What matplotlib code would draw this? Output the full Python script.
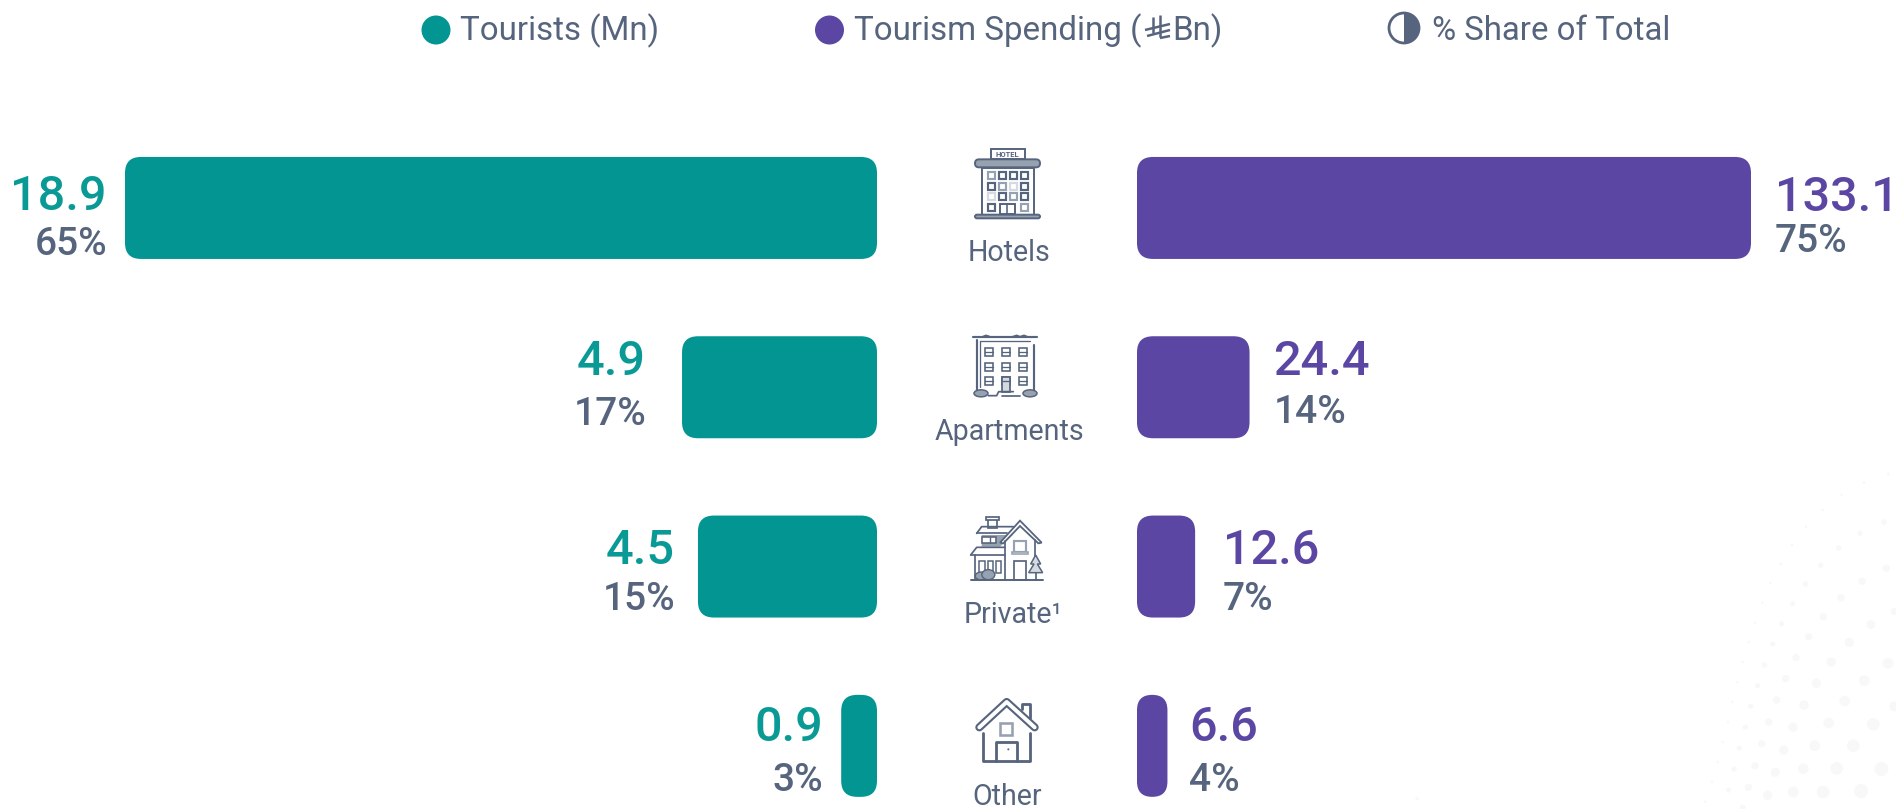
import matplotlib
matplotlib.use("Agg")
import matplotlib.pyplot as plt
from matplotlib.patches import FancyBboxPatch, Circle, Rectangle, Wedge, Polygon, Ellipse

plt.rcParams['font.family'] = ['Roboto', 'DejaVu Sans']

# ---- data ----
categories = ["Hotels", "Apartments", "Private¹", "Other"]
tourists = [18.9, 4.9, 4.5, 0.9]
tourists_share = ["65%", "17%", "15%", "3%"]
spending = [133.1, 24.4, 12.6, 6.6]
spending_labels = ["133.1", "24.4", "12.6", "6.6"]
spending_share = ["75%", "14%", "7%", "4%"]

TEAL = "#029592"
PURPLE = "#5B47A3"
SLATE = "#56657D"
W, H = 1896, 809

fig = plt.figure(figsize=(W / 100, H / 100), dpi=100, facecolor="white")

# background overlay in pixel coordinates
bg = fig.add_axes([0, 0, 1, 1], zorder=0)
bg.set_xlim(0, W); bg.set_ylim(H, 0); bg.axis("off")

dots = [(1465,102,4),(1392,128,4),(1325,165,4),(1268,210,4),(1218,261,4),(1176,315,4),(1142,372,4),(1111,429,4),
 (1087,488,4),(1065,548,4),(1046,606,4),(1028,666,4),(1012,727,4),(997,786,4),(984,846,4),(968,906,4),(953,966,4),(936,1025,4),(916,1085,4),
 (1452,246,8),(1380,280,8),(1316,324,8),(1262,376,8),(1216,432,8),(1178,491,8),(1145,551,8),(1118,612,8),(1093,675,8),(1073,737,8),(1052,799,8),(1036,862,8),(1018,925,8),(1002,987,8),(986,1050,8),
 (1459,385,11),(1386,424,11),(1323,473,11),(1270,530,11),(1226,590,11),(1188,653,11),(1157,716,11),(1130,780,11),(1106,846,11),(1085,911,11),(1065,977,11),(1045,1042,11),(1028,1103,9),
 (1483,514,11),(1413,554,13),(1348,607,14),(1294,666,14),(1249,730,14),(1212,795,14),(1179,862,14),(1151,930,14),(1126,997,14),(1103,1066,14),
 (1464,670,16),(1393,722,16),(1334,783,16),(1286,849,16),(1244,917,16),(1210,986,16),(1180,1056,16),
 (1483,799,15),(1420,853,19),(1360,917,19),(1310,985,19),(1269,1056,19),
 (1444,987,21),(1383,1053,21),(51,1076,5)]
for dx, dy, dr in dots:
    bg.add_patch(Circle((1400 + dx / 3, 440 + dy / 3), dr / 3, fc="#F8F8F8", ec="none"))

# ---- bars ----
ROW = 179.3
LSCALE = 752 / 18.9
RSCALE = 614 / 133.1
TOP = 118.3
ylim = (-0.5 + (H - TOP) / ROW, -0.5)
BAR_H = 102 / ROW

axL = fig.add_axes([(877 - 800) / W, 0, 800 / W, (H - TOP) / H], zorder=1)
axL.set_xlim(800 / LSCALE, 0); axL.set_ylim(*ylim); axL.axis("off")
axR = fig.add_axes([1137 / W, 0, 700 / W, (H - TOP) / H], zorder=1)
axR.set_xlim(0, 700 / RSCALE); axR.set_ylim(*ylim); axR.axis("off")


def rbar(ax, i, v, scale, color):
    r = min(16, v * scale / 2)
    ax.add_patch(FancyBboxPatch((0, i - BAR_H / 2), v, BAR_H,
                                boxstyle=f"round,pad=0,rounding_size={r / scale}",
                                mutation_aspect=scale / ROW, fc=color, ec="none"))


val_dx_l = [-18, -36, -23, -18]
val_dy_l = [-2.5, 12, 3, 4.5]
pct_dy_l = [-47, -37.5, -43.5, -45]
val_dx_r = [24, 24, 27.5, 21.5]
val_dy_r = [-3, 12, 3, 4.5]
pct_dy_r = [-44, -36, -43.5, -45]
for i in range(4):
    rbar(axL, i, tourists[i], LSCALE, TEAL)
    rbar(axR, i, spending[i], RSCALE, PURPLE)
    axL.annotate(f"{tourists[i]:.1f}", (tourists[i], i), xytext=(val_dx_l[i], val_dy_l[i]), textcoords="offset pixels",
                 ha="right", va="baseline", color="#0A9A95", fontsize=35, fontweight="medium", annotation_clip=False)
    axL.annotate(tourists_share[i], (tourists[i], i), xytext=(val_dx_l[i], pct_dy_l[i]), textcoords="offset pixels",
                 ha="right", va="baseline", color=SLATE, fontsize=28, fontweight="medium", annotation_clip=False)
    axR.annotate(spending_labels[i], (spending[i], i), xytext=(val_dx_r[i], val_dy_r[i]), textcoords="offset pixels",
                 ha="left", va="baseline", color=PURPLE, fontsize=35, fontweight="medium", annotation_clip=False)
    axR.annotate(spending_share[i], (spending[i], i), xytext=(val_dx_r[i], pct_dy_r[i]), textcoords="offset pixels",
                 ha="left", va="baseline", color=SLATE, fontsize=28, fontweight="medium", annotation_clip=False)

# ---- overlay: legend, icons, labels ----
ov = fig.add_axes([0, 0, 1, 1], zorder=2)
ov.set_xlim(0, W); ov.set_ylim(H, 0); ov.axis("off"); ov.patch.set_alpha(0)

ov.add_patch(Circle((436, 30), 14.5, fc=TEAL, ec="none"))
ov.text(460, 40, "Tourists (Mn)", color=SLATE, fontsize=23.9, va="baseline", ha="left")
ov.add_patch(Circle((829.5, 30), 14.5, fc=PURPLE, ec="none"))
ov.text(854, 40, "Tourism Spending (", color=SLATE, fontsize=23.9, va="baseline", ha="left")
ov.text(1172, 40, "Bn)", color=SLATE, fontsize=23.9, va="baseline", ha="left")
# riyal sign
for seg in [((1153, 17), (1153, 33)), ((1160, 15), (1160, 37)), ((1145, 30), (1170, 24)), ((1147, 36), (1170, 30)), ((1160, 38), (1170, 36))]:
    ov.plot(*zip(*seg), color=SLATE, lw=1.8, solid_capstyle="butt")
ov.add_patch(Circle((1404, 28), 15, fc="white", ec=SLATE, lw=2))
ov.add_patch(Wedge((1404, 28), 15, -90, 90, fc=SLATE, ec=SLATE, lw=0))
ov.text(1432, 40, "% Share of Total", color=SLATE, fontsize=23.8, va="baseline", ha="left")

label_x = [1009, 1009, 1013, 1007]
label_y = [261, 440, 623, 805]
for name, x, y in zip(categories, label_x, label_y):
    ov.text(x, y, name, color=SLATE, fontsize=20.6, ha="center", va="baseline")

LIGHT = "#97A2B1"
PALE = "#D5DAE1"
K = 0.78


def line(ox, oy, pts, lw=1.8, color=SLATE):
    xs = [ox + p[0] / 3 for p in pts]
    ys = [oy + p[1] / 3 for p in pts]
    ov.plot(xs, ys, color=color, lw=lw * K, solid_capstyle="round", solid_joinstyle="round")


def box(ox, oy, x0, y0, x1, y1, fc="white", ec=SLATE, lw=1.8, r=0):
    if r:
        ov.add_patch(FancyBboxPatch((ox + x0 / 3, oy + y0 / 3), (x1 - x0) / 3, (y1 - y0) / 3,
                                    boxstyle=f"round,pad=0,rounding_size={r}", fc=fc, ec=ec, lw=lw * K))
    else:
        ov.add_patch(Rectangle((ox + x0 / 3, oy + y0 / 3), (x1 - x0) / 3, (y1 - y0) / 3, fc=fc, ec=ec, lw=lw * K))


# Hotel icon
ox, oy = 960, 140
box(ox, oy, 92, 28, 194, 56)
ov.text(ox + 143 / 3, oy + 43 / 3, "HOTEL", fontsize=5.5, fontweight="bold", color=SLATE, ha="center", va="center")
box(ox, oy, 66, 84, 222, 224)
box(ox, oy, 45, 58, 240, 82, fc=LIGHT, r=4)
box(ox, oy, 45, 224, 240, 235, fc=LIGHT, r=2)
cols = [
    [LIGHT, SLATE, SLATE, SLATE],
    [SLATE, LIGHT, PALE, SLATE],
    [PALE, SLATE, LIGHT, SLATE],
]
xs = [84, 117, 150, 183]
ys = [96, 128, 160]
for r_, y in enumerate(ys):
    for c_, x in enumerate(xs):
        box(ox, oy, x, y, x + 21, y + 21, ec=cols[r_][c_], lw=2)
box(ox, oy, 84, 193, 105, 214, lw=2)
box(ox, oy, 120, 193, 165, 222)
line(ox, oy, [(142, 193), (142, 222)], lw=1.5)
box(ox, oy, 183, 193, 204, 214, ec=LIGHT, lw=2)

# Apartment icon
ox, oy = 920, 130
line(ox, oy, [(160, 622), (352, 622)], lw=2)
line(ox, oy, [(188, 620), (198, 616), (210, 620)], lw=1.5)
line(ox, oy, [(278, 620), (290, 616), (300, 620), (312, 616), (322, 620)], lw=1.5)
line(ox, oy, [(172, 630), (172, 780)], lw=2)
line(ox, oy, [(342, 645), (342, 780)], lw=2)
line(ox, oy, [(180, 632), (330, 632)], lw=1.2)
line(ox, oy, [(180, 632), (180, 770)], lw=1.2)
for y in [655, 698, 740]:
    for x in [195, 247, 298]:
        box(ox, oy, x, y, x + 23, y + 24, lw=1.5)
        line(ox, oy, [(x, y + 12), (x + 23, y + 12)], lw=1.2)
box(ox, oy, 246, 742, 270, 785, fc=PALE, lw=1.6)
line(ox, oy, [(205, 797), (230, 797), (236, 785), (280, 785)], lw=1.6)
line(ox, oy, [(245, 797), (300, 797)], lw=1.6)
ov.add_patch(Ellipse((ox + 183 / 3, oy + 790 / 3), 14, 7, fc=LIGHT, ec=SLATE, lw=1.1))
ov.add_patch(Ellipse((ox + 330 / 3, oy + 790 / 3), 14, 7, fc=LIGHT, ec=SLATE, lw=1.1))

# Private house icon
ox, oy = 920, 500
box(ox, oy, 203, 58, 232, 84, lw=1.6)
box(ox, oy, 197, 50, 237, 60, lw=1.6)
ov.add_patch(Polygon([(ox + 185 / 3, oy + 105 / 3), (ox + 278 / 3, oy + 105 / 3), (ox + 240 / 3, oy + 140 / 3), (ox + 185 / 3, oy + 140 / 3)], fc=LIGHT, ec="none"))
line(ox, oy, [(170, 100), (185, 80), (280, 80)], lw=1.6)
line(ox, oy, [(170, 100), (260, 100)], lw=1.6)
box(ox, oy, 185, 112, 228, 130, lw=1.5)
line(ox, oy, [(210, 112), (210, 130)], lw=1.3)
ov.add_patch(Polygon([(ox + 240 / 3, oy + 128 / 3), (ox + 300 / 3, oy + 62 / 3), (ox + 365 / 3, oy + 128 / 3), (ox + 355 / 3, oy + 130 / 3), (ox + 300 / 3, oy + 78 / 3), (ox + 250 / 3, oy + 130 / 3)], fc="white", ec=SLATE, lw=1.3))
line(ox, oy, [(254, 122), (254, 240)], lw=1.6)
line(ox, oy, [(345, 120), (345, 168)], lw=1.6)
box(ox, oy, 283, 122, 318, 155, ec=LIGHT, lw=2)
box(ox, oy, 276, 155, 325, 163, ec=LIGHT, lw=1.5)
box(ox, oy, 282, 182, 318, 240, lw=1.6)
line(ox, oy, [(152, 165), (170, 142), (254, 142)], lw=1.6)
line(ox, oy, [(152, 165), (254, 165)], lw=1.6)
line(ox, oy, [(166, 165), (166, 240)], lw=1.6)
for x in [178, 204, 228]:
    box(ox, oy, x, 182, x + 16, 220, lw=1.4)
ov.add_patch(Ellipse((ox + 185 / 3, oy + 228 / 3), 13, 8, fc=LIGHT, ec=SLATE, lw=1.0))
ov.add_patch(Ellipse((ox + 205 / 3, oy + 224 / 3), 13, 10, fc=LIGHT, ec=SLATE, lw=1.0))
ov.add_patch(Polygon([(ox + 347 / 3, oy + 165 / 3), (ox + 362 / 3, oy + 192 / 3), (ox + 352 / 3, oy + 192 / 3), (ox + 368 / 3, oy + 218 / 3), (ox + 326 / 3, oy + 218 / 3), (ox + 342 / 3, oy + 192 / 3), (ox + 332 / 3, oy + 192 / 3)], fc=PALE, ec=SLATE, lw=1.1))
line(ox, oy, [(347, 218), (347, 240)], lw=1.6)
line(ox, oy, [(152, 240), (368, 240)], lw=1.8)

# Other house icon
ox, oy = 920, 500
line(ox, oy, [(178, 682), (260, 606), (344, 682)], lw=7.5)
line(ox, oy, [(178, 682), (260, 606), (344, 682)], lw=3.6, color="white")
line(ox, oy, [(190, 698), (190, 782), (330, 782), (330, 698)], lw=2.6)
line(ox, oy, [(305, 628), (305, 612), (330, 612), (330, 655)], lw=2.6)
box(ox, oy, 241, 670, 277, 705, ec=LIGHT, lw=2.4)
line(ox, oy, [(229, 782), (229, 726), (290, 726), (290, 782)], lw=2.6)
ov.add_patch(Circle((ox + 265 / 3, oy + 748 / 3), 1, fc=SLATE, ec="none"))

fig.savefig("out.png", dpi=100)
